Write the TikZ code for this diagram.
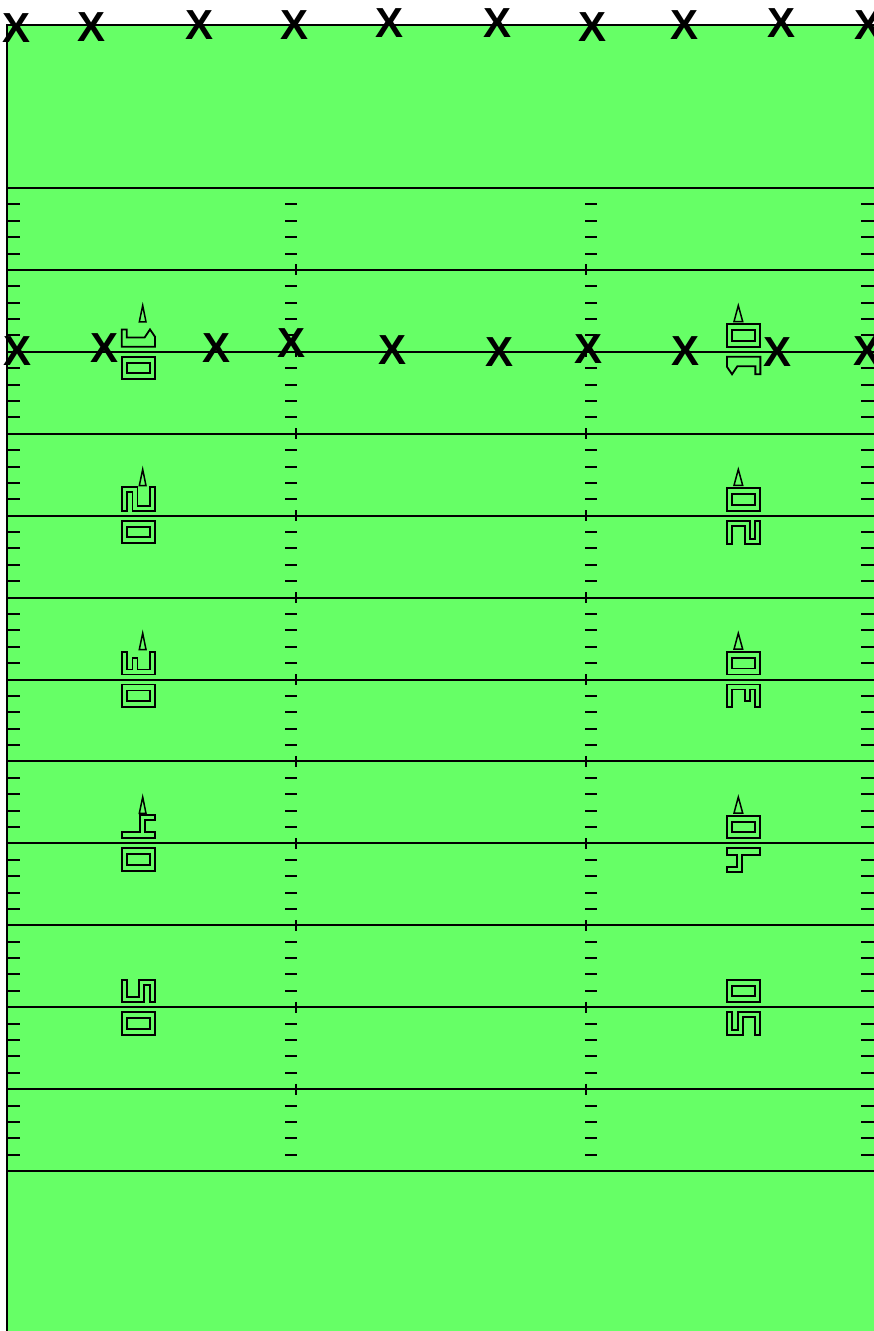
\documentclass[tikz,border=0pt]{standalone}
\usepackage{fontspec}
\setmainfont{Liberation Sans}
\definecolor{turf}{RGB}{102,255,102}
\tikzset{
  yardline/.style={line width=2pt, black},
  hashmark/.style={line width=2pt, black},
  digit/.style={line width=1.8pt, black, line join=miter},
  arrowtri/.style={line width=1.5pt, black, line join=miter},
  xmark/.style={inner sep=0pt, font=\fontsize{42}{42}\selectfont\bfseries}
}
% digit outlines, left orientation (digit top points right), local box X 0..33.3
\newcommand\dgzero{\draw[digit] (0,0) rectangle (33.3,22.5); \draw[digit] (5,6) rectangle (28.3,16.5);}
\newcommand\dgone{\draw[digit] (0,0) -- (5,0) -- (5,8) -- (23,8) -- (28.3,0) -- (33.3,7.3) -- (33.3,17.4) -- (0,17.4) -- cycle;}
\newcommand\dgtwo{\draw[digit] (0,0) -- (15.7,0) -- (15.7,18.3) -- (28.3,18.3) -- (28.3,0) -- (33.3,0) -- (33.3,23.3) -- (10.7,23.3) -- (10.7,5) -- (5,5) -- (5,23.3) -- (0,23.3) -- cycle;}
\newcommand\dgthree{\draw[digit] (0,0) -- (5,0) -- (5,17.3) -- (10.7,17.3) -- (10.7,5.7) -- (15.7,5.7) -- (15.7,17.3) -- (28.3,17.3) -- (28.3,0) -- (33.3,0) -- (33.3,22.3) -- (0,22.3) -- cycle;}
\newcommand\dgfour{\draw[digit] (0,16.7) -- (18.3,16.7) -- (18.3,0) -- (33.3,0) -- (33.3,5) -- (23.3,5) -- (23.3,16.7) -- (33.3,16.7) -- (33.3,23.3) -- (0,23.3) -- cycle;}
\newcommand\dgfive{\draw[digit] (0,0) -- (5,0) -- (5,17.5) -- (17.4,17.5) -- (17.4,0) -- (33.3,0) -- (33.3,22.5) -- (28.3,22.5) -- (28.3,5) -- (22.4,5) -- (22.4,22.5) -- (0,22.5) -- cycle;}
% #1 first digit macro, #2 its width
\newcommand\numpair[2]{%
  \begin{scope}[shift={(-16.65,-5-#2)}] #1 \end{scope}
  \begin{scope}[shift={(-16.65,5)}] \dgzero \end{scope}}
\begin{document}
\begin{tikzpicture}[x=1pt,y=-1pt]
\useasboundingbox (0,0) rectangle (874,1331);
% field
\fill[turf] (7,25) rectangle (900,1360);
\draw[line width=2pt] (7,1360) -- (7,25) -- (900,25);
% yard lines
\foreach \i in {0,...,12}{
  \pgfmathsetmacro\yy{188+81.92*\i}
  \draw[yardline] (7,\yy) -- (874,\yy);
}
% hash marks
\foreach \n in {1,...,59}{
  \pgfmathtruncatemacro\r{mod(\n,5)}
  \ifnum\r>0
    \pgfmathsetmacro\yy{188+16.384*\n}
    \draw[hashmark] (7,\yy) -- (20,\yy);
    \draw[hashmark] (285,\yy) -- (297,\yy);
    \draw[hashmark] (585,\yy) -- (597,\yy);
    \draw[hashmark] (861,\yy) -- (874,\yy);
  \fi
}
% ticks on yard lines
\foreach \i in {1,...,11}{
  \pgfmathsetmacro\yy{188+81.92*\i}
  \draw[hashmark] (296,\yy-5.5) -- (296,\yy+5.5);
  \draw[hashmark] (585.5,\yy-5.5) -- (585.5,\yy+5.5);
}
% numbers, left side
\begin{scope}[shift={(138.35,351.84)}] \numpair{\dgone}{17.4} \end{scope}
\begin{scope}[shift={(138.35,515.68)}] \numpair{\dgtwo}{23.3} \end{scope}
\begin{scope}[shift={(138.35,679.52)}] \numpair{\dgthree}{22.3} \end{scope}
\begin{scope}[shift={(138.35,843.36)}] \numpair{\dgfour}{23.3} \end{scope}
\begin{scope}[shift={(138.35,1007.2)}] \numpair{\dgfive}{22.5} \end{scope}
% numbers, right side
\begin{scope}[shift={(743.7,351.84)},rotate=180] \numpair{\dgone}{17.4} \end{scope}
\begin{scope}[shift={(743.7,515.68)},rotate=180] \numpair{\dgtwo}{23.3} \end{scope}
\begin{scope}[shift={(743.7,679.52)},rotate=180] \numpair{\dgthree}{22.3} \end{scope}
\begin{scope}[shift={(743.7,843.36)},rotate=180] \numpair{\dgfour}{23.3} \end{scope}
\begin{scope}[shift={(743.7,1007.2)},rotate=180] \numpair{\dgfive}{22.5} \end{scope}
% direction triangles
\foreach \yy in {351.84,515.68,679.52,843.36}{
  \draw[arrowtri] (142.7,\yy-46.3) -- (146,\yy-30) -- (139.3,\yy-30) -- cycle;
  \draw[arrowtri] (738.3,\yy-46.3) -- (742.7,\yy-30.3) -- (734,\yy-30.3) -- cycle;
}
% X marks, top row
\node[xmark] (t1) at (17,28) {X};
\node[xmark] (t2) at (92,27) {X};
\node[xmark] (t3) at (200,25) {X};
\node[xmark] (t4) at (295,25) {X};
\node[xmark] (t5) at (390,23) {X};
\node[xmark] (t6) at (498,23) {X};
\node[xmark] (t7) at (593,27) {X};
\node[xmark] (t8) at (684,25) {X};
\node[xmark] (t9) at (781,23) {X};
\node[xmark] (t10) at (868,25) {X};
% X marks, second row
\node[xmark] (m1) at (18,351) {X};
\node[xmark] (m2) at (105,348) {X};
\node[xmark] (m3) at (217,348) {X};
\node[xmark] (m4) at (292,343) {X};
\node[xmark] (m5) at (393,350) {X};
\node[xmark] (m6) at (500,352) {X};
\node[xmark] (m7) at (589,349) {X};
\node[xmark] (m8) at (685,351) {X};
\node[xmark] (m9) at (777,352) {X};
\node[xmark] (m10) at (867,351) {X};
\end{tikzpicture}
\end{document}
